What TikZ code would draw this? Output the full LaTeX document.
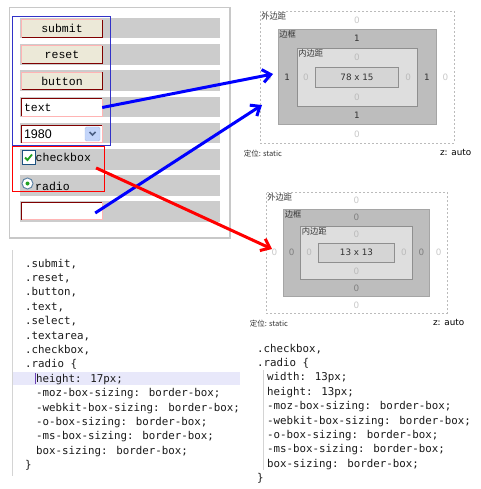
\documentclass[tikz,border=0pt]{standalone}
\usepackage{fontspec}
\setmainfont{Liberation Sans}
\newfontfamily\ctlfont{Liberation Mono}
\newfontfamily\codefont{DejaVu Sans Mono}
\newfontfamily\numfont{DejaVu Sans}
\newfontfamily\cjkfont{Noto Sans CJK SC}
\usepackage{tikz}
\usetikzlibrary{arrows.meta,calc,positioning}
\definecolor{bmPanel}{HTML}{C8C8C8}
\definecolor{bmBar}{HTML}{CCCCCC}
\definecolor{bmFace}{HTML}{ECE9D8}
\definecolor{bmDark}{HTML}{800000}
\definecolor{bmLight}{HTML}{FFB4B4}
\definecolor{bmBlue}{HTML}{0000FF}
\definecolor{bmFrame}{HTML}{3232C8}
\definecolor{bmRed}{HTML}{FF0000}
\definecolor{bmBorder}{HTML}{BDBDBD}
\definecolor{bmPad}{HTML}{DEDEDE}
\definecolor{bmContent}{HTML}{D5D5D5}
\definecolor{bmEdge}{HTML}{8F8F8F}
\definecolor{bmInk}{HTML}{333333}
\definecolor{bmZero}{HTML}{BBBBBB}
\definecolor{bmCode}{HTML}{1A1A1A}
\definecolor{bmHilite}{HTML}{E8E8FA}
\definecolor{bmGuide}{HTML}{D4D4D4}
\definecolor{bmCursor}{HTML}{6A3FB5}
\definecolor{bmDrop}{HTML}{C3D5FA}
\definecolor{bmChev}{HTML}{4D6185}
\definecolor{bmCheck}{HTML}{1C5180}
\definecolor{bmGreen}{HTML}{21A121}
\tikzset{
  bm diagram/.style={x=1pt, y=-1pt},
  bm bar/.style={fill=bmBar},
  bm control/.style={minimum width=80pt, minimum height=17pt, inner sep=0pt,
    font=\ctlfont\fontsize{11.5}{13}\selectfont},
  bm button/.style={bm control, fill=bmFace},
  bm field/.style={bm control, fill=white, text width=76pt, inner xsep=2pt, align=left},
  bm dark edge/.style={draw=bmDark, line width=1pt},
  bm light edge/.style={draw=bmLight, line width=1pt},
  bm margin/.style={draw=bmZero, line width=0.8pt, dash pattern=on 2pt off 2pt, inner sep=0pt},
  bm border/.style={fill=bmBorder, draw=bmEdge!80, line width=0.8pt, inner sep=0pt},
  bm padding/.style={fill=bmPad, draw=bmEdge, line width=0.8pt, inner sep=0pt},
  bm content/.style={fill=bmContent, draw=bmEdge, line width=0.8pt, inner sep=0pt,
    font=\numfont\fontsize{8.8}{10}\selectfont, text=bmInk},
  bm num/.style={font=\numfont\fontsize{8.8}{10}\selectfont, inner sep=0pt},
  bm tag/.style={font=\cjkfont\fontsize{8.3}{9}\selectfont, text=bmInk, inner sep=1.5pt, anchor=north west},
  bm foot/.style={font=\cjkfont\fontsize{7.5}{9}\selectfont, text=bmInk, inner sep=0pt},
  bm code/.style={font=\codefont\fontsize{10.8}{13}\selectfont, text=bmCode, anchor=base west, inner sep=0pt},
  bm arrow/.style={-{Straight Barb[length=8pt,width=13pt]}, line width=3pt}
}
\begin{document}
\begin{tikzpicture}[bm diagram]
\useasboundingbox[fill=white] (0,0) rectangle (480,489);
% form panel
\draw[bmPanel, line width=1.2pt] (9.5,7.5) rectangle (230,238);
\foreach \r in {0,...,7}
  \fill[bm bar] (20,18+26.2*\r) rectangle +(200,20.5);
\foreach \r/\lbl in {0/submit,1/reset,2/button}{
  \node[bm button] (btn\r) at (62,28.5+26.2*\r) {\lbl};
  \draw[bm dark edge] (btn\r.north east) -- (btn\r.south east) -- (btn\r.south west);
  \draw[bm light edge] (btn\r.south west) -- (btn\r.north west) -- (btn\r.north east);
}
\node[bm field] (txtin) at (62,107.5) {text};
\node[bm field, font=\rmfamily\fontsize{12.5}{14}\selectfont] (sel) at (62,134) {1980};
\node[bm field] (blankin) at (62,211) {};
\foreach \f in {txtin,sel,blankin}{
  \draw[bm dark edge] (\f.south west) -- (\f.north west) -- (\f.north east);
  \draw[bm light edge] (\f.north east) -- (\f.south east) -- (\f.south west);
}
\filldraw[fill=bmDrop, draw=bmDrop!80!bmChev, rounded corners=1.5pt] (85,127) rectangle (100,141);
\draw[bmChev, line width=1.6pt] (89.5,132) -- (92.5,135) -- (95.5,132);
\node[draw=bmCheck, fill=white, minimum size=13pt, inner sep=0pt, line width=1pt] (chk) at (28.5,157.5) {};
\draw[bmGreen, line width=1.8pt] ($(chk.center)+(-3.5,0)$) -- ++(2.5,2.5) -- ++(4.5,-5.5);
\node[anchor=west, inner sep=0pt, font=\ctlfont\fontsize{11.5}{13}\selectfont] (chklbl) at (chk.east) {checkbox};
\node[circle, draw=bmCheck!70, fill=white, minimum size=11pt, inner sep=0pt, line width=1pt] (rad) at (27.5,183.5) {};
\fill[bmGreen] (rad.center) circle (2pt);
\node[anchor=west, inner sep=0pt, font=\ctlfont\fontsize{11.5}{13}\selectfont] (radlbl) at ([shift={(1.5,3)}]rad.east) {radio};
\draw[bmFrame, line width=1pt] (12,17) rectangle (110,146);
\draw[bmRed, line width=1pt] (12,147) rectangle (104,191.5);
% box models
\foreach \n/\cx/\cy/\mw/\mh/\bw/\bh/\pw/\ph/\qw/\qh/\dims/\bd/\bcol in
  {1/357/77/194/132/158/95/120/58/83/20/{78 x 15}/1/bmInk,
   2/356.5/252.5/181/121/146/87/112/53/76/19/{13 x 13}/0/gray}{
  \node[bm margin, minimum width=\mw pt, minimum height=\mh pt] (m\n) at (\cx,\cy) {};
  \node[bm border, minimum width=\bw pt, minimum height=\bh pt] (b\n) at (\cx,\cy) {};
  \node[bm padding, minimum width=\pw pt, minimum height=\ph pt] (p\n) at (\cx,\cy) {};
  \node[bm content, minimum width=\qw pt, minimum height=\qh pt] (c\n) at (\cx,\cy) {\dims};
  \foreach \s in {north,south,west,east}{
    \node[bm num, text=bmZero!80] (m\n\s) at ($(m\n.\s)!0.5!(b\n.\s)$) {0};
    \node[bm num, text=\bcol] (b\n\s) at ($(b\n.\s)!0.5!(p\n.\s)$) {\bd};
    \node[bm num, text=bmZero] (p\n\s) at ($(p\n.\s)!0.5!(c\n.\s)$) {0};
  }
  \node[bm tag] (mtag\n) at (m\n.north west) {外边距};
  \node[bm tag] (btag\n) at (b\n.north west) {边框};
  \node[bm tag] (ptag\n) at (p\n.north west) {内边距};
  \node[bm foot, anchor=north west] (pos\n) at ([shift={(-16,7)}]m\n.south west) {定位: static};
  \node[bm num, text=black, anchor=north east] (zidx\n) at ([shift={(17,6)}]m\n.south east) {z: auto};
}
% code listings
\fill[bmHilite] (12,372) rectangle (240,385);
\draw[bmGuide] (12,250) -- (12,476);
\draw[bmCursor, line width=1pt] (35,373) -- (35,384);
\foreach \dx/\txt [count=\i from 0] in {25/{.submit,},25/{.reset,},25/{.button,},25/{.text,},
    25/{.select,},25/{.textarea,},25/{.checkbox,},25/{.radio \{},
    36/{height: 17px;},36/{-moz-box-sizing: border-box;},36/{-webkit-box-sizing: border-box;},
    36/{-o-box-sizing: border-box;},36/{-ms-box-sizing: border-box;},36/{box-sizing: border-box;},25/{\}}}
  \node[bm code] (codeA\i) at (\dx,267+14.4*\i) {\txt};
\draw[bmGuide] (263,370) -- (263,470);
\foreach \dx/\txt [count=\i from 0] in {257/{.checkbox,},257/{.radio \{},267/{width: 13px;},
    267/{height: 13px;},267/{-moz-box-sizing: border-box;},267/{-webkit-box-sizing: border-box;},
    267/{-o-box-sizing: border-box;},267/{-ms-box-sizing: border-box;},267/{box-sizing: border-box;},257/{\}}}
  \node[bm code] (codeB\i) at (\dx,352+14.4*\i) {\txt};
% arrows
\coordinate (tipA) at (273,74);
\coordinate (tipB) at (262,105);
\coordinate (tipC) at (272,249);
\draw[bm arrow, bmBlue] (txtin.east) -- (tipA);
\draw[bm arrow, bmBlue] ([shift={(-7,2)}]blankin.east) -- (tipB);
\draw[bm arrow, bmRed] ([shift={(5,6)}]chklbl.south east) -- (tipC);
\end{tikzpicture}
\end{document}
